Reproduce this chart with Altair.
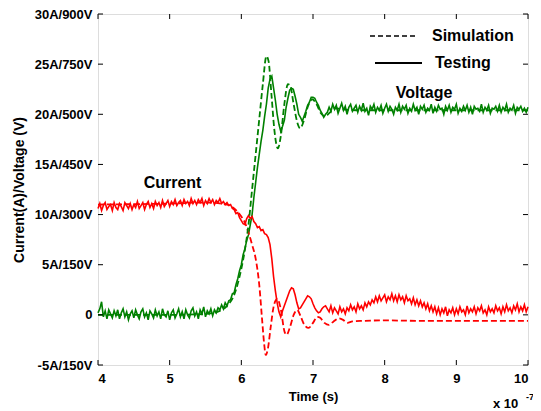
import altair as alt
import pandas as pd

# ---------------- data (time in units of 1e-7 s, current in A) ----------------
t_test = [4.000, 4.025, 4.050, 4.075, 4.100, 4.125, 4.150, 4.175,
          4.200, 4.225, 4.250, 4.275, 4.300, 4.325, 4.350, 4.375,
          4.400, 4.425, 4.450, 4.475, 4.500, 4.525, 4.550, 4.575,
          4.600, 4.625, 4.650, 4.675, 4.700, 4.725, 4.750, 4.775,
          4.800, 4.825, 4.850, 4.875, 4.900, 4.925, 4.950, 4.975,
          5.000, 5.025, 5.050, 5.075, 5.100, 5.125, 5.150, 5.175,
          5.200, 5.225, 5.250, 5.275, 5.300, 5.325, 5.350, 5.375,
          5.400, 5.425, 5.450, 5.475, 5.500, 5.525, 5.550, 5.575,
          5.600, 5.625, 5.650, 5.675, 5.700, 5.725, 5.750, 5.775,
          5.800, 5.825, 5.850, 5.875, 5.900, 5.925, 5.950, 5.975,
          6.000, 6.025, 6.050, 6.075, 6.100, 6.125, 6.150, 6.175,
          6.200, 6.225, 6.250, 6.275, 6.300, 6.325, 6.350, 6.375,
          6.400, 6.425, 6.450, 6.475, 6.500, 6.525, 6.550, 6.575,
          6.600, 6.625, 6.650, 6.675, 6.700, 6.725, 6.750, 6.775,
          6.800, 6.825, 6.850, 6.875, 6.900, 6.925, 6.950, 6.975,
          7.000, 7.025, 7.050, 7.075, 7.100, 7.125, 7.150, 7.175,
          7.200, 7.225, 7.250, 7.275, 7.300, 7.325, 7.350, 7.375,
          7.400, 7.425, 7.450, 7.475, 7.500, 7.525, 7.550, 7.575,
          7.600, 7.625, 7.650, 7.675, 7.700, 7.725, 7.750, 7.775,
          7.800, 7.825, 7.850, 7.875, 7.900, 7.925, 7.950, 7.975,
          8.000, 8.025, 8.050, 8.075, 8.100, 8.125, 8.150, 8.175,
          8.200, 8.225, 8.250, 8.275, 8.300, 8.325, 8.350, 8.375,
          8.400, 8.425, 8.450, 8.475, 8.500, 8.525, 8.550, 8.575,
          8.600, 8.625, 8.650, 8.675, 8.700, 8.725, 8.750, 8.775,
          8.800, 8.825, 8.850, 8.875, 8.900, 8.925, 8.950, 8.975,
          9.000, 9.025, 9.050, 9.075, 9.100, 9.125, 9.150, 9.175,
          9.200, 9.225, 9.250, 9.275, 9.300, 9.325, 9.350, 9.375,
          9.400, 9.425, 9.450, 9.475, 9.500, 9.525, 9.550, 9.575,
          9.600, 9.625, 9.650, 9.675, 9.700, 9.725, 9.750, 9.775,
          9.800, 9.825, 9.850, 9.875, 9.900, 9.925, 9.950, 9.975,
          10.000]

voltage_test = [
    # 4.000 - 5.675
    0.2, 0.6, 1.3, -0.2, 0.4, -0.4, 0.5, 0.1, -0.3, 0.4,
    -0.1, 0.5, -0.4, 0.2, 0.6, -0.2, 0.3, -0.5, 0.1, 0.4,
    -0.3, 0.5, 0.0, -0.4, 0.3, 0.6, -0.2, 0.2, -0.5, 0.4,
    0.1, -0.3, 0.5, -0.1, 0.3, -0.4, 0.6, 0.0, -0.2, 0.4,
    -0.5, 0.2, 0.5, -0.3, 0.1, 0.6, -0.2, 0.3, -0.4, 0.5,
    0.0, -0.3, 0.4, 0.7, -0.1, 0.3, -0.4, 0.5, 0.1, 0.8,
    -0.2, 0.4, 0.1, 0.6, -0.1, 0.5, 0.2, 0.7,
    # 5.700 - 7.200
    0.5, 1.0, 0.6, 1.2, 0.9, 1.4, 1.5, 2.1, 2.2, 3.0,
    3.6, 4.4, 5.0, 6.0, 6.6, 7.4, 8.0, 9.0, 10.0, 11.7,
    13.2, 14.7, 16.0, 17.3, 18.4, 19.8, 21.0, 22.6, 23.5, 23.8,
    22.6, 21.4, 20.0, 19.0, 18.3, 18.8, 19.4, 20.7, 21.6, 22.4,
    22.6, 22.5, 21.8, 21.0, 20.0, 19.7, 19.3, 19.8, 20.3, 20.9,
    21.2, 21.7, 21.7, 21.6, 21.2, 20.9, 20.4, 20.1, 19.7, 20.0,
    20.2,
    # 7.225 - 10.000
    20.7, 20.3, 21.0, 20.5, 20.9, 20.1, 20.6, 21.1, 20.4, 20.8,
    20.0, 20.7, 21.0, 20.3, 20.6, 20.9, 20.2, 20.8, 20.4, 21.1,
    20.3, 20.6, 19.9, 20.8, 20.5, 21.0, 20.2, 20.7, 20.4, 20.9,
    20.1, 20.6, 21.0, 20.3, 20.8, 20.5, 20.0, 20.7, 20.4, 21.0,
    20.2, 20.8, 20.5, 20.9, 20.1, 20.6, 20.3, 21.0, 20.4, 20.7,
    20.0, 20.8, 20.5, 20.9, 20.2, 20.6, 20.4, 21.0, 20.1, 20.7,
    20.3, 20.9, 20.5, 20.6, 20.0, 20.8, 20.4, 20.9, 20.2, 20.7,
    20.5, 21.0, 20.1, 20.6, 20.3, 20.8, 20.4, 20.9, 20.2, 20.7,
    20.0, 20.8, 20.5, 20.6, 20.3, 21.0, 20.2, 20.7, 20.4, 20.9,
    20.1, 20.6, 20.5, 20.8, 20.3, 20.9, 20.2, 20.7, 20.4, 21.0,
    20.2, 20.6, 20.4, 20.9, 20.1, 20.7, 20.5, 20.8, 20.3, 20.6,
    20.2, 20.7]

current_test = [
    # 4.000 - 5.775
    10.6, 11.1, 10.4, 10.9, 11.2, 10.5, 10.8, 11.0, 10.4, 11.2,
    10.7, 10.5, 11.1, 10.8, 10.4, 11.2, 10.9, 10.6, 11.1, 10.5,
    11.0, 10.7, 11.3, 10.6, 10.9, 11.2, 10.5, 11.0, 11.3, 10.7,
    11.1, 10.6, 11.3, 10.9, 11.2, 10.7, 11.4, 10.8, 11.1, 11.4,
    10.8, 11.3, 11.0, 11.5, 10.9, 11.2, 11.4, 10.9, 11.5, 11.1,
    11.3, 10.9, 11.6, 11.1, 11.4, 11.0, 11.5, 11.2, 11.6, 10.9,
    11.4, 11.1, 11.6, 11.2, 11.5, 11.0, 11.4, 11.2, 11.6, 11.1,
    11.3, 11.0,
    # 5.800 - 7.200
    11.2, 10.9, 11.0, 10.6, 10.5, 10.1, 10.2, 9.7, 9.4, 9.1,
    9.0, 9.6, 9.9, 9.6, 9.8, 9.3, 9.1, 8.7, 8.8, 8.4,
    8.5, 8.1, 8.0, 7.7, 7.0, 5.6, 3.8, 2.4, 1.2, 0.3,
    -0.2, 0.4, 0.9, 1.4, 1.9, 2.4, 2.7, 2.6, 2.0, 1.2,
    0.6, 0.7, 1.0, 1.3, 1.6, 1.9, 1.8, 1.6, 1.1, 0.7,
    0.4, 0.2, 0.3, 0.6, 0.8, 0.9, 0.6,
    # 7.225 - 10.000
    0.3, 0.9, 0.2, 0.7, 0.4, 0.1, 0.8, 0.3, 0.6, 0.1, 0.7,
    0.4, 1.0, 0.5, 0.8, 0.3, 1.1, 0.6, 0.9, 0.5, 1.2,
    0.8, 1.3, 1.0, 1.5, 1.2, 1.8, 1.3, 1.9, 1.4, 1.7,
    2.0, 1.3, 1.8, 1.5, 2.1, 1.4, 1.9, 1.3, 2.0, 1.5,
    1.8, 1.2, 1.9, 1.4, 1.6, 1.1, 1.7, 1.0, 1.5, 0.9,
    1.4, 0.8, 1.2, 0.6, 1.1, 0.4, 0.9, 0.3, 0.8, 0.1,
    0.7, 0.0, 0.6, 0.2, 0.8, -0.1, 0.5, 0.2, 0.7, 0.0,
    0.6, 0.1, 0.8, 0.3, 0.5, 0.0, 0.9, 0.2, 0.6, 0.3,
    0.8, 0.1, 0.7, 0.4, 0.9, 0.2, 0.5, 0.0, 0.8, 0.3,
    0.6, 0.2, 0.9, 0.4, 0.7, 0.1, 0.8, 0.3, 1.0, 0.4,
    0.7, 0.2, 0.9, 0.5, 1.1, 0.3, 0.8, 0.4, 1.0, 0.3,
    0.8]

t_vsim = [4.0, 5.0, 5.5, 5.7, 5.8, 5.9, 6.0, 6.05, 6.10, 6.15, 6.20, 6.25,
          6.30, 6.35, 6.38, 6.42, 6.46, 6.51, 6.55, 6.60, 6.65, 6.68, 6.73,
          6.78, 6.82, 6.87, 6.93, 6.99, 7.05, 7.11, 7.17, 7.24, 7.32, 7.40,
          7.60, 10.0]
voltage_sim = [0.0, 0.0, 0.1, 0.4, 0.9, 2.0, 4.6, 6.5, 9.0, 12.5, 16.0, 19.5,
               23.0, 25.8, 25.3, 22.0, 18.5, 16.6, 17.8, 21.0, 23.0, 22.9, 21.0,
               19.2, 18.6, 19.3, 20.8, 21.5, 21.0, 20.1, 19.8, 20.2, 20.6, 20.5,
               20.4, 20.4]

t_isim = [4.0, 5.0, 5.5, 5.8, 5.9, 6.0, 6.05, 6.10, 6.15, 6.20, 6.25, 6.29,
          6.32, 6.34, 6.37, 6.41, 6.45, 6.50, 6.55, 6.60, 6.63, 6.68, 6.73,
          6.78, 6.83, 6.88, 6.94, 7.00, 7.06, 7.10, 7.16, 7.22, 7.28, 7.36,
          7.42, 7.48, 7.55, 7.70, 8.00, 8.50, 10.0]
current_sim = [11.0, 11.1, 11.2, 11.0, 10.6, 9.8, 9.2, 8.2, 7.0, 5.6, 3.0, -0.5,
               -3.0, -4.0, -3.4, -1.2, 0.8, 1.6, 0.6, -1.6, -2.0, -1.2, 0.0,
               0.5, -0.2, -1.0, -1.3, -0.8, -0.2, -0.3, -0.8, -1.0, -0.7, -0.35,
               -0.5, -0.8, -0.65, -0.6, -0.55, -0.6, -0.6]

ytick_vals = [-5, 0, 5, 10, 15, 20, 25, 30]
ytick_text = ["-5A/150V", "0", "5A/150V", "10A/300V", "15A/450V",
              "20A/500V", "25A/750V", "30A/900V"]
xtick_vals = [4, 5, 6, 7, 8, 9, 10]

ann_text = ["Current", "Voltage"]
ann_t = [5.04, 8.55]
ann_v = [13.1, 22.1]

RED = "#ff0000"
GREEN = "#008000"
FONT = "Liberation Sans"
W, H = 430, 351

# ---------------- tables ----------------
df_vt = pd.DataFrame({"t": t_test, "v": voltage_test})
df_it = pd.DataFrame({"t": t_test, "v": current_test})
df_vs = pd.DataFrame({"t": t_vsim, "v": voltage_sim})
df_is = pd.DataFrame({"t": t_isim, "v": current_sim})
df_yt = pd.DataFrame({"v": ytick_vals})
df_xt = pd.DataFrame({"t": xtick_vals})
df_ann = pd.DataFrame({"t": ann_t, "v": ann_v, "label": ann_text})

label_expr = "''"
for val, txt in zip(ytick_vals, ytick_text):
    label_expr = f"datum.value == {val} ? '{txt}' : ({label_expr})"

xscale = alt.Scale(domain=[4, 10], nice=False, zero=False)
yscale = alt.Scale(domain=[-5, 30], nice=False, zero=False)

X = alt.X("t:Q", scale=xscale, title="Time (s)",
          axis=alt.Axis(values=xtick_vals, format="d", ticks=False, domain=False,
                        grid=False, labelPadding=7, titlePadding=5,
                        labelFont=FONT, labelFontSize=13, labelFontWeight="bold",
                        labelColor="black", titleFont=FONT, titleFontSize=13,
                        titleFontWeight="bold", titleColor="black"))
Y = alt.Y("v:Q", scale=yscale, title="Current(A)/Voltage (V)",
          axis=alt.Axis(values=ytick_vals, labelExpr=label_expr, ticks=False,
                        domain=False, grid=False, labelPadding=6, titlePadding=8,
                        labelFont=FONT, labelFontSize=13, labelFontWeight="bold",
                        labelColor="black", titleFont=FONT, titleFontSize=14,
                        titleFontWeight="bold", titleColor="black"))

vt = alt.Chart(df_vt).mark_line(color=GREEN, strokeWidth=1.6).encode(x=X, y=Y)
it = alt.Chart(df_it).mark_line(color=RED, strokeWidth=1.6).encode(x=X, y=Y)
vs = alt.Chart(df_vs).mark_line(color=GREEN, strokeWidth=1.8, strokeDash=[6, 3],
                                interpolate="monotone").encode(x=X, y=Y)
is_ = alt.Chart(df_is).mark_line(color=RED, strokeWidth=1.8, strokeDash=[6, 3],
                                 interpolate="monotone").encode(x=X, y=Y)

TL = 5
ytl = alt.Chart(df_yt).mark_rule(color="black", strokeWidth=1).encode(
    y=Y, x=alt.value(0), x2=alt.value(TL))
ytr = alt.Chart(df_yt).mark_rule(color="black", strokeWidth=1).encode(
    y=Y, x=alt.value(W - TL), x2=alt.value(W))
xtb = alt.Chart(df_xt).mark_rule(color="black", strokeWidth=1).encode(
    x=X, y=alt.value(H), y2=alt.value(H - TL))
xtt = alt.Chart(df_xt).mark_rule(color="black", strokeWidth=1).encode(
    x=X, y=alt.value(0), y2=alt.value(TL))

ann = alt.Chart(df_ann).mark_text(font=FONT, fontSize=16, fontWeight="bold",
                                  color="black").encode(x=X, y=Y, text="label:N")

# legend (drawn in plot pixel space)
leg_df = pd.DataFrame({"k": [0]})
leg_sim_line = alt.Chart(leg_df).mark_rule(color="black", strokeWidth=1.5,
                                           strokeDash=[5, 3]).encode(
    x=alt.value(272), x2=alt.value(320), y=alt.value(22))
leg_test_line = alt.Chart(leg_df).mark_rule(color="black", strokeWidth=1.8).encode(
    x=alt.value(277), x2=alt.value(324), y=alt.value(49))
leg_sim_txt = alt.Chart(leg_df).mark_text(font=FONT, fontSize=16, fontWeight="bold",
                                          align="left", baseline="middle",
                                          color="black").encode(
    x=alt.value(334), y=alt.value(22), text=alt.value("Simulation"))
leg_test_txt = alt.Chart(leg_df).mark_text(font=FONT, fontSize=16, fontWeight="bold",
                                           align="left", baseline="middle",
                                           color="black").encode(
    x=alt.value(337), y=alt.value(49), text=alt.value("Testing"))

exp_txt = alt.Chart(leg_df).mark_text(font=FONT, fontSize=13, fontWeight="bold",
                                      align="left", baseline="middle",
                                      color="black").encode(
    x=alt.value(395), y=alt.value(390), text=alt.value("x 10"))
exp_sup = alt.Chart(leg_df).mark_text(font=FONT, fontSize=9, fontWeight="bold",
                                      align="left", baseline="middle",
                                      color="black").encode(
    x=alt.value(428), y=alt.value(383), text=alt.value("-7"))

chart = alt.layer(
    vt, it, is_, vs, ytl, ytr, xtb, xtt, ann,
    leg_sim_line, leg_test_line, leg_sim_txt, leg_test_txt, exp_txt, exp_sup
).properties(
    width=W, height=H,
    autosize=alt.AutoSizeParams(type="none"),
    padding={"left": 90, "top": 6, "right": 5, "bottom": 46},
).configure_view(
    stroke="#111111", strokeWidth=1.6
).configure(background="white")

chart.save("out.html", embed_options={"renderer": "svg", "actions": False})
